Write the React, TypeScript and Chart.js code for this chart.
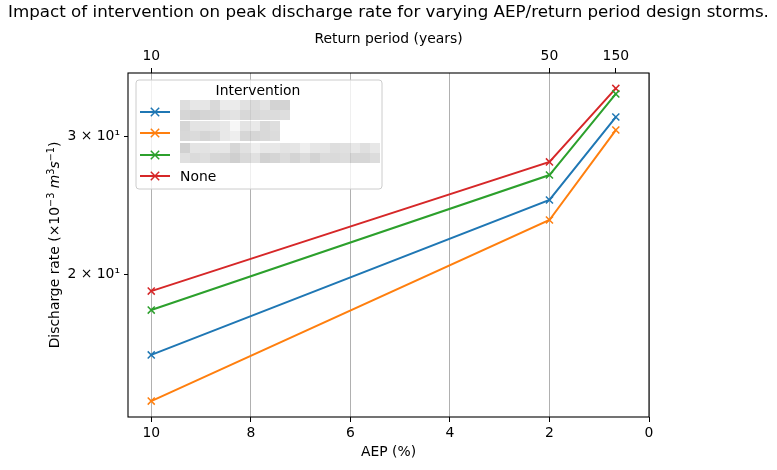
import React, { useEffect, useRef } from "react";
import { Chart, registerables } from "chart.js";

Chart.register(...registerables);

const aepValues = [10, 2, 0.6667];
const returnPeriods = [10, 50, 150];
const xTicks = [10, 8, 6, 4, 2, 0];
const yTicks = [20, 30];
const yTickLabels = ["2 × 10¹", "3 × 10¹"];

const seriesLabels = ["Intervention 1", "Intervention 2", "Intervention 3", "None"];
const redactedLegendText = ["Swale retrofit", "Green roofs", "Permeable paving and tanks"];
const seriesBlue = [15.77, 24.86, 31.72];
const seriesOrange = [13.77, 23.44, 30.53];
const seriesGreen = [17.99, 26.75, 33.95];
const seriesNone = [19.02, 27.8, 34.5];
const seriesColors = ["#1f77b4", "#ff7f0e", "#2ca02c", "#d62728"];

const titleText = "Impact of intervention on peak discharge rate for varying AEP/return period design storms.";
const FONT = '"DejaVu Sans", sans-serif';

function drawMosaicText(ctx: CanvasRenderingContext2D, text: string, x: number, y: number, targetW: number) {
  const w = Math.ceil(text.length * 10 + 10);
  const h = 20;
  const big = document.createElement("canvas");
  big.width = w;
  big.height = h;
  const bctx = big.getContext("2d")!;
  bctx.fillStyle = "#fff";
  bctx.fillRect(0, 0, w, h);
  bctx.font = `14px ${FONT}`;
  bctx.fillStyle = "#000";
  bctx.textBaseline = "alphabetic";
  bctx.fillText(text, 0, 15);
  const tw = Math.ceil(bctx.measureText(text).width);
  const bw = 10;
  const cols = Math.max(1, Math.round(targetW / bw));
  const small = document.createElement("canvas");
  small.width = cols;
  small.height = 2;
  const sctx = small.getContext("2d")!;
  sctx.imageSmoothingEnabled = true;
  sctx.imageSmoothingQuality = "high";
  sctx.drawImage(big, 0, 0, tw, h, 0, 0, cols, 2);
  sctx.fillStyle = "rgba(255,255,255,0.25)";
  sctx.fillRect(0, 0, cols, 2);
  ctx.save();
  ctx.imageSmoothingEnabled = false;
  ctx.globalCompositeOperation = "multiply";
  ctx.drawImage(small, 0, 0, cols, 2, x, y - 12, cols * bw, 20);
  ctx.restore();
}

const decorPlugin = {
  id: "decor",
  afterDraw(chart: any) {
    const { ctx, chartArea } = chart;
    const { left, top, right, bottom } = chartArea;
    ctx.save();
    ctx.strokeStyle = "#000";
    ctx.lineWidth = 1.1;
    ctx.strokeRect(left, top, right - left, bottom - top);
    ctx.fillStyle = "#000";
    ctx.font = `16.7px ${FONT}`;
    ctx.textAlign = "center";
    ctx.textBaseline = "middle";
    ctx.fillText(titleText, (left + right) / 2, 13);

    const segs = [
      { t: "Discharge rate (×10", f: `13.9px ${FONT}`, dy: 0 },
      { t: "−3", f: `9.7px ${FONT}`, dy: -5 },
      { t: " ", f: `13.9px ${FONT}`, dy: 0 },
      { t: "m", f: `italic 13.9px ${FONT}`, dy: 0 },
      { t: "3", f: `9.7px ${FONT}`, dy: -5 },
      { t: "s", f: `italic 13.9px ${FONT}`, dy: 0 },
      { t: "−1", f: `9.7px ${FONT}`, dy: -5 },
      { t: ")", f: `13.9px ${FONT}`, dy: 0 },
    ];
    let total = 0;
    const widths = segs.map((s) => {
      ctx.font = s.f;
      const w = ctx.measureText(s.t).width;
      total += w;
      return w;
    });
    ctx.translate(54, (top + bottom) / 2);
    ctx.rotate(-Math.PI / 2);
    ctx.textAlign = "left";
    ctx.textBaseline = "alphabetic";
    let cx = -total / 2;
    segs.forEach((s, i) => {
      ctx.font = s.f;
      ctx.fillText(s.t, cx, 5 + s.dy);
      cx += widths[i];
    });
    ctx.restore();

    ctx.save();
    const lx = 136, ly = 80, lw = 246, lh = 109, r = 3;
    ctx.beginPath();
    ctx.moveTo(lx + r, ly);
    ctx.arcTo(lx + lw, ly, lx + lw, ly + lh, r);
    ctx.arcTo(lx + lw, ly + lh, lx, ly + lh, r);
    ctx.arcTo(lx, ly + lh, lx, ly, r);
    ctx.arcTo(lx, ly, lx + lw, ly, r);
    ctx.closePath();
    ctx.fillStyle = "rgba(255,255,255,0.8)";
    ctx.fill();
    ctx.strokeStyle = "#cccccc";
    ctx.lineWidth = 1;
    ctx.stroke();
    ctx.fillStyle = "#000";
    ctx.font = `13.9px ${FONT}`;
    ctx.textAlign = "center";
    ctx.textBaseline = "middle";
    ctx.fillText("Intervention", 258, 91);
    const rows = [112, 133, 155, 176];
    const targetWidths = [110, 100, 198];
    rows.forEach((ry, i) => {
      ctx.strokeStyle = seriesColors[i];
      ctx.lineWidth = 2;
      ctx.beginPath();
      ctx.moveTo(140, ry);
      ctx.lineTo(170, ry);
      ctx.stroke();
      ctx.lineWidth = 1.5;
      const m = 4.2;
      ctx.beginPath();
      ctx.moveTo(155 - m, ry - m);
      ctx.lineTo(155 + m, ry + m);
      ctx.moveTo(155 - m, ry + m);
      ctx.lineTo(155 + m, ry - m);
      ctx.stroke();
      if (i < 3) {
        drawMosaicText(ctx, redactedLegendText[i], 180, ry, targetWidths[i]);
      } else {
        ctx.fillStyle = "#000";
        ctx.textAlign = "left";
        ctx.font = `13.9px ${FONT}`;
        ctx.fillText(seriesLabels[i], 180, ry + 1);
      }
    });
    ctx.restore();
  },
};

export default function App() {
  const ref = useRef<HTMLCanvasElement>(null);
  useEffect(() => {
    document.body.style.margin = "0";
    const allSeries = [seriesBlue, seriesOrange, seriesGreen, seriesNone];
    const font = { family: FONT, size: 13.9 };
    const chart = new Chart(ref.current!, {
      type: "line",
      data: {
        datasets: allSeries.map((s, i) => ({
          label: seriesLabels[i],
          data: s.map((v, j) => ({ x: aepValues[j], y: v })),
          borderColor: seriesColors[i],
          backgroundColor: seriesColors[i],
          borderWidth: 2,
          pointStyle: "crossRot",
          pointRadius: 5,
          pointBorderWidth: 1.5,
          pointBorderColor: seriesColors[i],
          tension: 0,
          fill: false,
          xAxisID: "x",
          yAxisID: "y",
        })),
      },
      options: {
        animation: false,
        responsive: false,
        devicePixelRatio: 1,
        layout: { padding: { left: 0, right: 128, top: 0, bottom: 0 } },
        plugins: { legend: { display: false }, tooltip: { enabled: false }, title: { display: false } },
        scales: {
          x: {
            type: "linear",
            position: "bottom",
            reverse: true,
            min: 0,
            max: 10.467,
            afterBuildTicks: (s: any) => {
              s.ticks = xTicks.map((v) => ({ value: v }));
            },
            ticks: { font, color: "#000", padding: 3, maxRotation: 0, autoSkip: false, callback: (v: any) => String(v) },
            grid: { color: "#b0b0b0", lineWidth: 1, tickColor: "#000", tickLength: 5 },
            border: { display: false },
            title: { display: true, text: "AEP (%)", font, color: "#000", padding: { top: 0, bottom: 9 } },
            afterFit: (s: any) => {
              s.height = 53;
            },
          },
          x2: {
            type: "linear",
            position: "top",
            reverse: true,
            min: 0,
            max: 10.467,
            afterBuildTicks: (s: any) => {
              s.ticks = returnPeriods.map((rp) => ({ value: 100 / rp }));
            },
            ticks: {
              font,
              color: "#000",
              padding: 3,
              maxRotation: 0,
              autoSkip: false,
              callback: (_v: any, i: number) => String(returnPeriods[i]),
            },
            grid: { drawOnChartArea: false, tickColor: "#000", tickLength: 5 },
            border: { display: false },
            title: { display: true, text: "Return period (years)", font, color: "#000", padding: { top: 31, bottom: 0 } },
            afterFit: (s: any) => {
              s.height = 73;
            },
          },
          y: {
            type: "logarithmic",
            position: "left",
            min: 13.14,
            max: 36.1,
            afterBuildTicks: (s: any) => {
              s.ticks = yTicks.map((v) => ({ value: v }));
            },
            ticks: {
              font,
              color: "#000",
              padding: 4,
              autoSkip: false,
              callback: (_v: any, i: number) => yTickLabels[i],
            },
            grid: { drawOnChartArea: false, tickColor: "#000", tickLength: 4 },
            border: { display: false },
            afterFit: (s: any) => {
              s.width = 128;
            },
          },
        },
      },
      plugins: [decorPlugin],
    } as any);
    return () => chart.destroy();
  }, []);
  return (
    <div style={{ position: "absolute", left: 0, top: 0, width: 777, height: 470 }}>
      <canvas ref={ref} width={777} height={470} style={{ width: 777, height: 470 }} />
    </div>
  );
}
